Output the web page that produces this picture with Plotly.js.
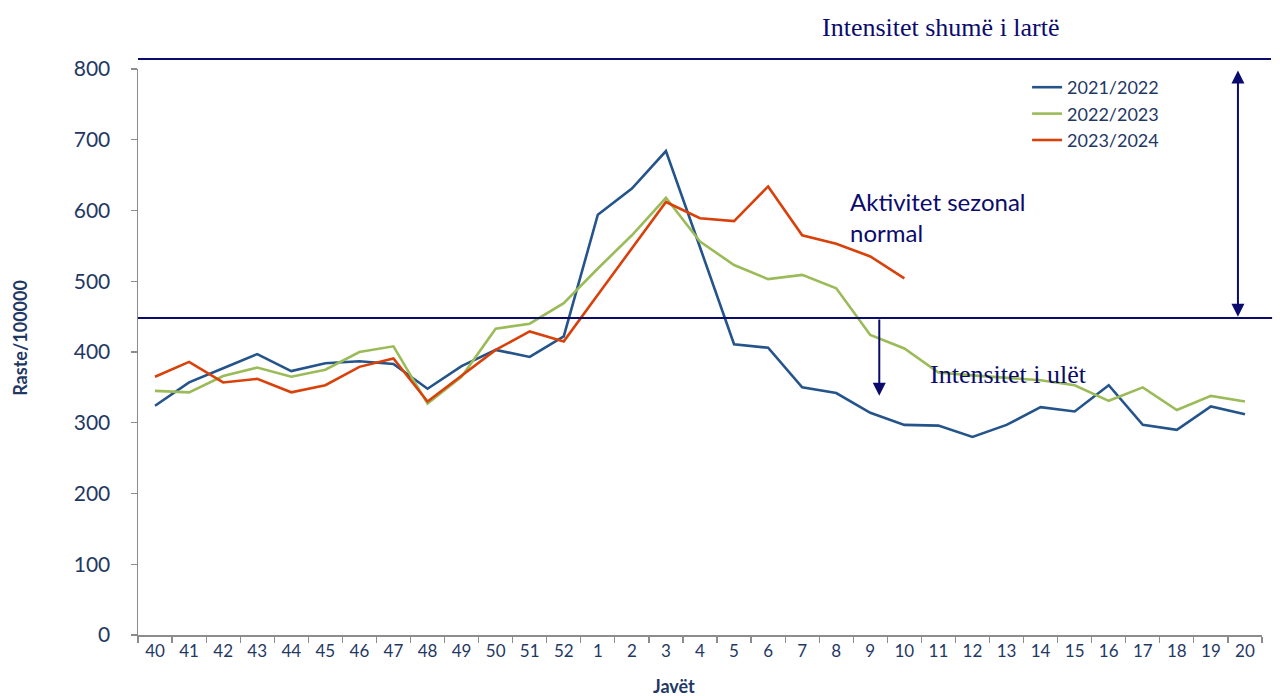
<!DOCTYPE html>
<html>
<head>
<meta charset="utf-8">
<script src="https://cdn.plot.ly/plotly-3.0.1.min.js"></script>
<style>html,body{margin:0;padding:0;background:#fff;}#chart{width:1280px;height:696px;}</style>
</head>
<body>
<div id="chart"></div>
<script>
// Weeks (x categories)
const weeks = ['40','41','42','43','44','45','46','47','48','49','50','51','52',
  '1','2','3','4','5','6','7','8','9','10','11','12','13','14','15','16','17','18','19','20'];

// Series values (rates per 100000)
const s2021_2022 = [324,357,377,397,373,384,387,383,348,380,403,393,422,
  594,631,684,548,411,406,350,342,314,297,296,280,297,322,316,353,297,290,323,312];
const s2022_2023 = [345,343,366,378,365,375,400,408,327,365,433,440,469,
  518,565,618,556,523,503,509,490,424,405,371,367,364,360,353,331,350,318,338,330];
const s2023_2024 = [365,386,357,362,343,353,379,391,330,367,403,429,415,
  481,547,612,589,585,634,565,553,535,504,null,null,null,null,null,null,null,null,null,null];

const seriesNames = ['2021/2022','2022/2023','2023/2024'];

// Intensity thresholds
const thresholdLow = 448;      // seasonal normal lower limit
const thresholdHigh = 814;     // very high intensity line
const lowArrowEnd = 338;       // tip of the down arrow

// Y axis
const yRange = [0, 800];
const yTicks = [0,100,200,300,400,500,600,700,800];

const navy = '#0B0B6E';
const labelColor = '#1F3864';
const colors = ['#24548A', '#9BBB59', '#D9410B'];

const traces = [s2021_2022, s2022_2023, s2023_2024].map((vals, i) => ({
  type: 'scatter',
  mode: 'lines',
  x: weeks,
  y: vals,
  name: seriesNames[i],
  line: {color: colors[i], width: 2.6},
  connectgaps: false
}));

const toPaperY = v => (v - yRange[0]) / (yRange[1] - yRange[0]);

const layout = {
  width: 1280,
  height: 696,
  margin: {l: 138, r: 18, t: 69, b: 61},
  paper_bgcolor: '#fff',
  plot_bgcolor: '#fff',
  font: {family: 'Lato, "Open Sans", sans-serif', color: labelColor},
  showlegend: true,
  legend: {
    x: 0.791, y: 1.0, xanchor: 'left', yanchor: 'top',
    font: {size: 18, color: labelColor, family: 'Lato, sans-serif'},
    bgcolor: 'rgba(0,0,0,0)',
    tracegroupgap: 0
  },
  xaxis: {
    type: 'category',
    range: [-0.5, weeks.length - 0.5],
    showline: true, linecolor: '#8C8C8C', linewidth: 1.5,
    ticks: 'outside', tickson: 'boundaries', ticklen: 6, tickcolor: '#8C8C8C', tickwidth: 1.2,
    tickfont: {size: 17, color: labelColor},
    showgrid: false, zeroline: false,
    fixedrange: true
  },
  yaxis: {
    range: yRange,
    tickvals: yTicks,
    showline: true, linecolor: '#8C8C8C', linewidth: 1.5,
    ticks: 'outside', ticklen: 6, tickcolor: '#8C8C8C', tickwidth: 1.2,
    ticklabelstandoff: 16,
    tickfont: {size: 21, color: labelColor},
    showgrid: false, zeroline: false,
    fixedrange: true
  },
  shapes: [
    {type: 'line', xref: 'paper', yref: 'paper', x0: 0, x1: 1.008,
     y0: toPaperY(thresholdHigh), y1: toPaperY(thresholdHigh), line: {color: navy, width: 2}},
    {type: 'line', xref: 'paper', yref: 'y', x0: 0, x1: 1.009,
     y0: thresholdLow, y1: thresholdLow, line: {color: navy, width: 2}}
  ],
  annotations: [
    {text: '<b>Javët</b>', xref: 'paper', yref: 'paper', x: 0.477, y: -0.09,
     xanchor: 'center', yanchor: 'middle', showarrow: false,
     font: {family: 'Lato, sans-serif', size: 18, color: labelColor}},
    {text: '<b>Raste/100000</b>', xref: 'paper', yref: 'paper', x: -0.105, y: 0.525,
     xanchor: 'center', yanchor: 'middle', textangle: -90, showarrow: false,
     font: {family: 'Lato, sans-serif', size: 18, color: labelColor}},
    {text: 'Intensitet shumë i lartë', xref: 'paper', yref: 'paper', x: 0.714, y: toPaperY(thresholdHigh) + 0.056,
     xanchor: 'center', yanchor: 'middle', showarrow: false,
     font: {family: '"Liberation Serif", "DejaVu Serif", serif', size: 26, color: navy}},
    {text: 'Aktivitet sezonal<br>normal', xref: 'paper', yref: 'y', x: 0.632, y: 591,
     xanchor: 'left', yanchor: 'middle', align: 'left', showarrow: false,
     font: {family: 'Lato, sans-serif', size: 24, color: navy}},
    {text: 'Intensitet i ulët', xref: 'paper', yref: 'y', x: 0.703, y: 368,
     xanchor: 'left', yanchor: 'middle', showarrow: false,
     font: {family: '"Liberation Serif", "DejaVu Serif", serif', size: 26, color: navy}},
    // double arrow between thresholds
    {xref: 'paper', yref: 'y', ayref: 'y', x: 0.9786, y: thresholdLow + 2,
     ax: 0, ay: yRange[1], text: '', showarrow: true, arrowhead: 2, startarrowhead: 2,
     arrowside: 'end+start', arrowsize: 1.3, startarrowsize: 1.3, arrowwidth: 2, arrowcolor: navy},
    // down arrow under low threshold
    {xref: 'paper', yref: 'y', ayref: 'y', x: 0.6595, y: lowArrowEnd,
     ax: 0, ay: thresholdLow, text: '', showarrow: true, arrowhead: 2,
     arrowsize: 1.3, arrowwidth: 2, arrowcolor: navy}
  ]
};

Plotly.newPlot('chart', traces, layout, {displayModeBar: false, staticPlot: true});
</script>
</body>
</html>
